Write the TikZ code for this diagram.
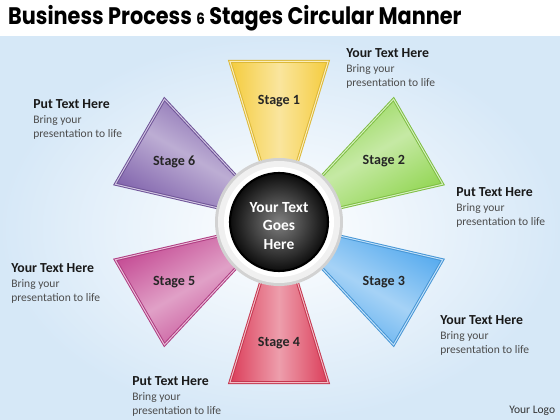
\documentclass[tikz,border=0pt]{standalone}
\usepackage{fontspec}
\setmainfont{Carlito}
\newfontfamily\titlefont{Poppins}
\usepackage{xcolor}
\usetikzlibrary{positioning,calc}
\definecolor{bg_blue}{rgb}{0.84,0.91,0.97}
\definecolor{st_gold}{rgb}{0.96,0.80,0.24}
\definecolor{st_green}{rgb}{0.55,0.83,0.29}
\definecolor{st_blue}{rgb}{0.30,0.65,0.93}
\definecolor{st_red}{rgb}{0.86,0.24,0.35}
\definecolor{st_pink}{rgb}{0.76,0.26,0.56}
\definecolor{st_purple}{rgb}{0.48,0.36,0.66}

\tikzset{
  stagebox/.style={draw=#1!90!black, line width=0.7pt, double=#1!35!white,
    double distance=0.7pt, top color=#1, bottom color=#1, middle color=#1!50!white},
  stagelabel/.style={font=\bfseries\fontsize{10}{12}\selectfont, text=black!85},
  infotext/.style={anchor=north west, align=left, inner sep=0pt,
    font=\fontsize{8.2}{9.8}\selectfont, text=black!70},
}
\newcommand{\infohead}[1]{{\fontsize{9.8}{11}\selectfont\bfseries\color{black!90}#1}}

\begin{document}
\begin{tikzpicture}[x=0.025cm, y=0.025cm]
    % Page 560 x 420, one unit = one pixel of the reference
    \useasboundingbox (0,0) rectangle (560,420);
    \fill[white] (0,0) rectangle (560,420);
    \shade[inner color=white, outer color=bg_blue] (0,0) rectangle (560,383);

    % Title
    \node[anchor=base west, inner sep=0pt, xscale=0.87, transform shape,
      font=\titlefont\bfseries\fontsize{17}{20}\selectfont]
      (title) at (8,395) {Business Process {\fontsize{11}{11}\selectfont 6} Stages Circular Manner};

    \coordinate (hubc) at (279,198);

    % Six stage wedges, tips hidden under the hub
    \begin{scope}[shift={(hubc)}]
      \foreach \ang/\col in {90/st_gold, 30/st_green, -30/st_blue, -90/st_red, -150/st_pink, 150/st_purple} {
        \draw[stagebox=\col, shading angle=\ang] (0,0) -- (\ang+17:168) -- (\ang-17:168) -- cycle;
      }
    \end{scope}

    % Hub
    \fill[gray!35] (hubc) circle (64);
    \fill[gray!12] (hubc) circle (61);
    \fill[white] (hubc) circle (55);
    \shade[inner color=black!50, outer color=black!95, draw=black, line width=1.5pt] (hubc) circle (49);
    \node[font=\bfseries\fontsize{11}{13}\selectfont, text=white, align=center]
      (hub) at (279,194) {Your Text\\Goes\\Here};

    % Stage labels
    \foreach \i/\ang in {1/90, 2/30, 3/-30, 4/-90, 5/-150, 6/150} {
      \node[stagelabel] (s\i) at ($(hubc)+(\ang:121)$) {Stage \i};
    }

    % Text blocks
    \node[infotext] (t1) at (346,372) {\infohead{Your Text Here}\\[1pt]Bring your\\presentation to life};
    \node[infotext] (t2) at (456,233) {\infohead{Put Text Here}\\[1pt]Bring your\\presentation to life};
    \node[infotext] (t3) at (440,105) {\infohead{Your Text Here}\\[1pt]Bring your\\presentation to life};
    \node[infotext] (t4) at (132,44) {\infohead{Put Text Here}\\[1pt]Bring your\\presentation to life};
    \node[infotext] (t5) at (11,157) {\infohead{Your Text Here}\\[1pt]Bring your\\presentation to life};
    \node[infotext] (t6) at (33,321) {\infohead{Put Text Here}\\[1pt]Bring your\\presentation to life};

    \node[anchor=base west, inner sep=0pt, font=\fontsize{8.2}{10}\selectfont, text=black!80]
      (logo) at (509,6) {Your Logo};
\end{tikzpicture}
\end{document}
